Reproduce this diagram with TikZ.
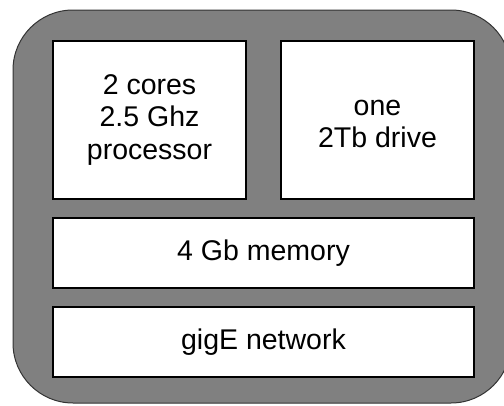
\documentclass[tikz,border=0pt]{standalone}
\usepackage{fontspec}
\setmainfont{Liberation Sans}
\definecolor{outergray}{HTML}{808080}
\definecolor{edgegray}{HTML}{333333}
\tikzset{
  part/.style={draw=black, fill=white, line width=1.4pt, inner sep=0pt},
  label/.style={font=\fontsize{28.5}{32.5}\selectfont, align=center, inner sep=0pt, text=black},
}
\begin{document}
\begin{tikzpicture}[x=1pt,y=-1pt]
\useasboundingbox (0,0) rectangle (504,405);
\clip (0,0) rectangle (504,405);
\draw[fill=outergray, draw=edgegray, line width=1pt, rounded corners=60pt] (13,10) rectangle (511,403);
\node[part, minimum width=193pt, minimum height=158pt] (cpu) at (149.5,120) {};
\node[part, minimum width=193pt, minimum height=158pt] (disk) at (377.5,120) {};
\node[part, minimum width=421pt, minimum height=70pt] (mem) at (263.5,253) {};
\node[part, minimum width=421pt, minimum height=70pt] (net) at (263.5,342) {};
\node[label] (cputext) at (cpu.center) {2 cores\\2.5 Ghz\\processor};
\node[label] (disktext) at ([yshift=-4pt]disk.center) {one\\2Tb drive};
\node[label] (memtext) at (mem.center) {4 Gb memory};
\node[label] (nettext) at (net.center) {gigE network};
\end{tikzpicture}
\end{document}
